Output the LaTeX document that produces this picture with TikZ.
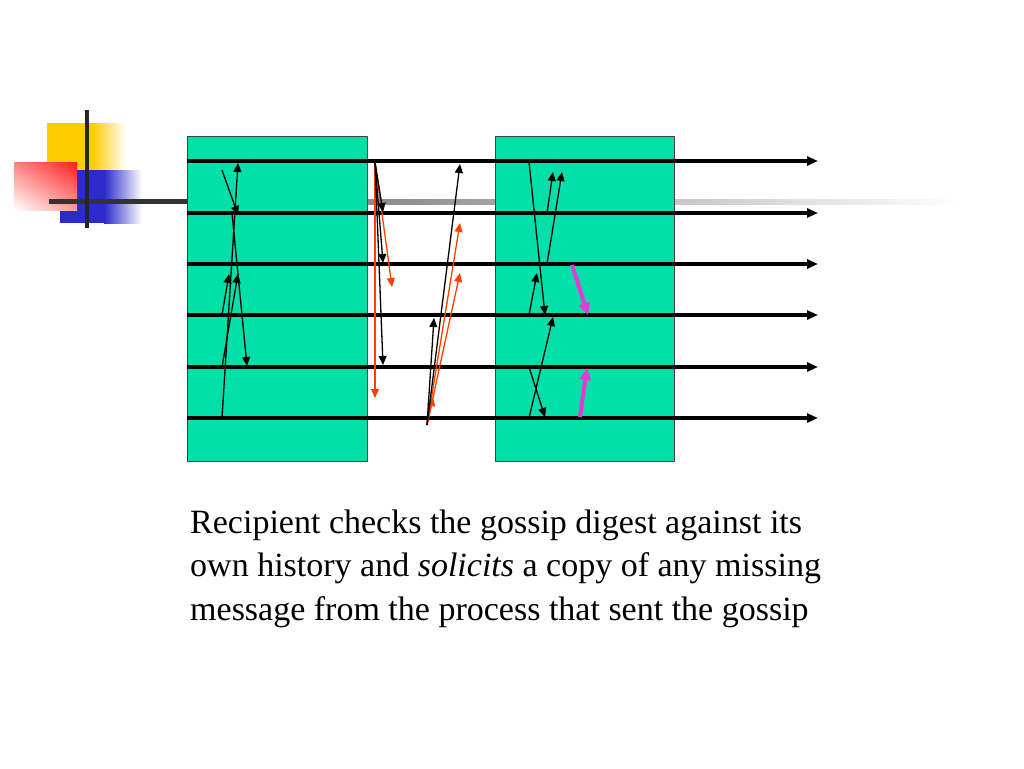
\documentclass[tikz,border=0pt]{standalone}
\usepackage{fontspec}
\setmainfont{Liberation Serif}
\usetikzlibrary{arrows.meta,shadings}
\definecolor{sea}{RGB}{0,224,168}
\definecolor{msgred}{RGB}{255,64,0}
\definecolor{fixpink}{RGB}{228,60,210}
\definecolor{decoyellow}{RGB}{255,204,0}
\definecolor{decoblue}{RGB}{42,42,205}
\definecolor{decored}{RGB}{255,30,30}
\tikzset{
  every picture/.style={line join=round, >=Stealth},
  timeline/.style={line width=3.2pt, -{Triangle[length=11pt,width=9pt]}},
  msg/.style={line width=1.3pt, -{Triangle[length=9pt,width=8pt]}},
  redmsg/.style={msg, draw=msgred},
  fixmsg/.style={line width=4pt, draw=fixpink, -{Triangle[length=12pt,width=11pt]}},
  procbox/.style={fill=sea, draw=black!75, line width=0.8pt},
}
\begin{document}
\begin{tikzpicture}[x=1pt,y=-1pt]
\useasboundingbox (0,0) rectangle (1024,768);
% corner decoration
\fill[decoyellow] (47,123) rectangle (92,170);
\shade[left color=decoyellow, right color=white] (92,123) rectangle (126,170);
\shade[left color=black!60, right color=white] (187,199) rectangle (960,204);
\fill[decoblue] (60,170) rectangle (104,223);
\shade[left color=decoblue, right color=white] (104,170) rectangle (142,223);
\shade[lower left=white, upper right=decored, upper left=decored!55, lower right=decored!45] (14,162) rectangle (77,210);
\draw[line width=5pt, black!80] (49,201) -- (187,201);
\draw[line width=3.5pt, black!85] (87,110) -- (87,228);
% processes
\path[procbox] (187,136) rectangle (367,461);
\path[procbox] (495,136) rectangle (674,461);
\foreach \i/\y in {1/161,2/213,3/264,4/315,5/367,6/418} {
  \coordinate (s\i) at (187,\y);
  \coordinate (e\i) at (818,\y);
  \draw[timeline] (s\i) -- (e\i);
}
% first round of messages
\coordinate (a1) at (222,170); \coordinate (a2) at (238,215);
\coordinate (b1) at (222,418); \coordinate (b2) at (238,163);
\coordinate (c1) at (232,213); \coordinate (c2) at (247,366);
\coordinate (d1) at (222,315); \coordinate (d2) at (229,274);
\coordinate (f1) at (222,367); \coordinate (f2) at (238,274);
\draw[msg] (a1) -- (a2); \draw[msg] (b1) -- (b2); \draw[msg] (c1) -- (c2);
\draw[msg] (d1) -- (d2); \draw[msg] (f1) -- (f2);
% gossip
\coordinate (g0) at (375,162);
\coordinate (g1) at (383,212); \coordinate (g2) at (383,263); \coordinate (g3) at (383,365);
\coordinate (g4) at (375,398); \coordinate (g5) at (392,287);
\draw[redmsg] (g0) -- (g4); \draw[redmsg] (g0) -- (g5);
\draw[msg] (g0) -- (g1); \draw[msg] (g0) -- (g2); \draw[msg] (g0) -- (g3);
\coordinate (h0) at (427,425);
\coordinate (h1) at (460,164); \coordinate (h2) at (434,318);
\coordinate (h3) at (460,223); \coordinate (h4) at (460,273); \coordinate (h5) at (433,397);
\draw[redmsg] (h0) -- (h3); \draw[redmsg] (h0) -- (h4); \draw[redmsg] (h0) -- (h5);
\draw[msg] (h0) -- (h1); \draw[msg] (h0) -- (h2);
% second process
\coordinate (k1) at (529,162); \coordinate (k2) at (545,315);
\coordinate (l1) at (547,213); \coordinate (l2) at (553,172);
\coordinate (m1) at (547,264); \coordinate (m2) at (562,172);
\coordinate (n1) at (529,315); \coordinate (n2) at (537,273);
\coordinate (o1) at (529,418); \coordinate (o2) at (553,317);
\coordinate (p1) at (529,367); \coordinate (p2) at (545,417);
\draw[msg] (k1) -- (k2); \draw[msg] (l1) -- (l2); \draw[msg] (m1) -- (m2);
\draw[msg] (n1) -- (n2); \draw[msg] (o1) -- (o2); \draw[msg] (p1) -- (p2);
% solicited copies
\coordinate (q1) at (572,265); \coordinate (q2) at (588,315);
\coordinate (r1) at (580,417); \coordinate (r2) at (587,368);
\draw[fixmsg] (q1) -- (q2); \draw[fixmsg] (r1) -- (r2);
% caption
\node[anchor=base west, align=left, inner sep=0pt, font=\fontsize{34}{43.5}\selectfont] (caption) at (190,620)
  {Recipient checks the gossip digest against its\\
   own history and \textit{solicits} a copy of any missing\\
   message from the process that sent the gossip};
\end{tikzpicture}
\end{document}
